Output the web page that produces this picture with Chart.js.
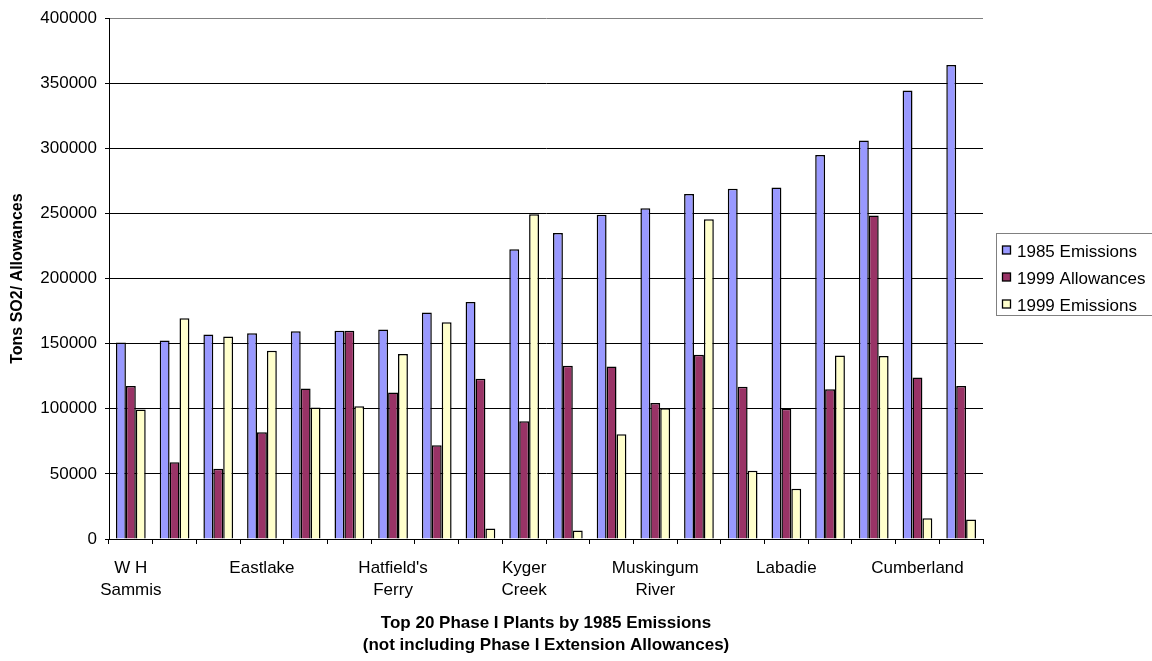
<!DOCTYPE html>
<html>
<head>
<meta charset="utf-8">
<script src="https://cdn.jsdelivr.net/npm/chart.js@4/dist/chart.umd.min.js"></script>
<style>
  html, body { margin: 0; padding: 0; background: #fff; }
  #wrap { width: 1152px; height: 661px; }
</style>
</head>
<body>
<div id="wrap"><canvas id="c" width="1152" height="661"></canvas></div>
<script>
// Plants, ranked by 1985 SO2 emissions (only every third plant is named on the axis)
const plants = [
  ['W H', 'Sammis'], '', '', 'Eastlake', '', '',
  ["Hatfield's", 'Ferry'], '', '', ['Kyger', 'Creek'], '', '',
  ['Muskingum', 'River'], '', '', 'Labadie', '', '', 'Cumberland', ''
];

// Tons of SO2
const emissions1985 = [151000, 152500, 157000, 158000, 159500, 160000, 161000, 174000, 182000, 222500,
                       235000, 249000, 254000, 265000, 269000, 270000, 295000, 306000, 344500, 364000];
const allowances1999 = [117500, 59000, 54000, 82000, 115500, 160000, 112500, 72000, 123000, 90500,
                        133000, 132500, 104500, 141500, 117000, 100000, 115000, 248500, 124000, 117500];
const emissions1999 = [99500, 169500, 155500, 144500, 101000, 102000, 142000, 166500, 8000, 249500,
                       6500, 80500, 100500, 245500, 52500, 38500, 141000, 140500, 16000, 15000];

const seriesNames = ['1985 Emissions', '1999 Allowances', '1999 Emissions'];
const yTicks = [0, 50000, 100000, 150000, 200000, 250000, 300000, 350000, 400000];

const FONT = "'Liberation Sans', Arial, sans-serif";

// Boxed legend to the right of the plot
const boxLegend = {
  id: 'boxLegend',
  afterDraw(chart) {
    const ctx = chart.ctx;
    const x0 = 996, y0 = 233, w = 160, h = 82;
    ctx.save();
    ctx.strokeStyle = '#808080';
    ctx.lineWidth = 1;
    ctx.strokeRect(x0 + 0.5, y0 + 0.5, w, h);
    ctx.font = '17px ' + FONT;
    ctx.textBaseline = 'middle';
    ctx.textAlign = 'left';
    chart.data.datasets.forEach((ds, i) => {
      const cy = y0 + 18.5 + i * 27;
      ctx.fillStyle = ds.backgroundColor;
      ctx.fillRect(x0 + 6.5, cy - 5.5, 8, 8);
      ctx.strokeStyle = '#000';
      ctx.lineWidth = 1.3;
      ctx.strokeRect(x0 + 6.5, cy - 5.5, 8, 8);
      ctx.fillStyle = '#000';
      ctx.fillText(ds.label, x0 + 21, cy + 1);
    });
    ctx.restore();
  }
};

new Chart(document.getElementById('c'), {
  type: 'bar',
  data: {
    labels: plants,
    datasets: [
      { label: seriesNames[0], data: emissions1985, backgroundColor: '#9999FF' },
      { label: seriesNames[1], data: allowances1999, backgroundColor: '#993366' },
      { label: seriesNames[2], data: emissions1999, backgroundColor: '#FFFFCC' }
    ]
  },
  options: {
    responsive: false,
    animation: false,
    events: [],
    layout: { padding: { top: 11, right: 169, left: 0, bottom: 0 } },
    datasets: {
      bar: {
        borderColor: '#000',
        borderWidth: 1.5,
        categoryPercentage: 0.68,
        barPercentage: 1.0
      }
    },
    plugins: {
      legend: { display: false },
      tooltip: { enabled: false },
      title: { display: false }
    },
    scales: {
      x: {
        afterFit(scale) { scale.height = 122; },
        border: { display: true, color: '#000', width: 1 },
        grid: {
          offset: true,
          drawOnChartArea: true,
          color: (c) => (c.index === plants.length ? '#808080' : 'rgba(0,0,0,0)'),
          tickColor: '#000',
          tickLength: 5,
          lineWidth: 1
        },
        ticks: {
          autoSkip: false,
          maxRotation: 0,
          minRotation: 0,
          padding: 13,
          color: '#000',
          font: { family: FONT, size: 17, lineHeight: '22.5px' }
        },
        title: {
          display: true,
          text: ['Top 20 Phase I Plants by 1985 Emissions', '(not including Phase I Extension Allowances)'],
          color: '#000',
          font: { family: FONT, size: 17, weight: 'bold', lineHeight: '22px' },
          padding: { top: 0, bottom: 5 }
        }
      },
      y: {
        min: 0,
        max: 400000,
        afterFit(scale) { scale.width = 109; },
        afterBuildTicks(scale) { scale.ticks = yTicks.map(v => ({ value: v })); },
        border: { display: true, color: '#000', width: 1 },
        grid: {
          color: (c) => (c.tick && c.tick.value === 400000 ? '#808080' : '#000'),
          tickColor: '#000',
          tickLength: 4,
          lineWidth: 1
        },
        ticks: {
          padding: 8,
          color: '#000',
          font: { family: FONT, size: 17 },
          callback: (v) => String(v)
        },
        title: {
          display: true,
          text: 'Tons SO2/ Allowances',
          color: '#000',
          font: { family: FONT, size: 16, weight: 'bold', lineHeight: '22px' },
          padding: { top: 7, bottom: 0 }
        }
      }
    }
  },
  plugins: [boxLegend]
});
</script>
</body>
</html>
